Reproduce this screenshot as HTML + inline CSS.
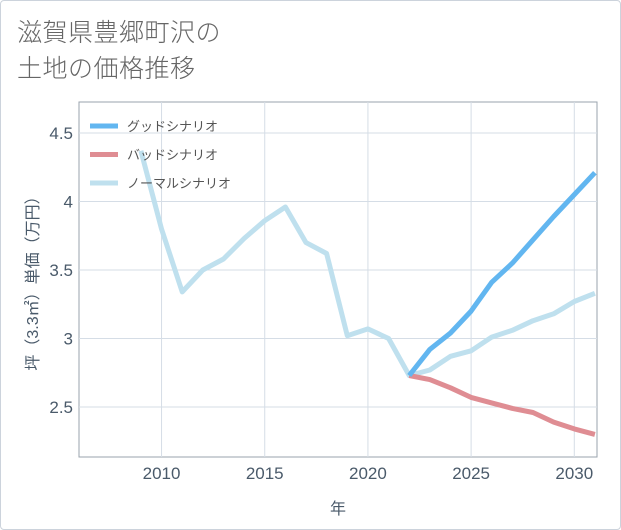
<!DOCTYPE html>
<html><head><meta charset="utf-8"><style>
body{margin:0;background:#fff;font-family:"Liberation Sans","Noto Sans CJK JP",sans-serif;}
#card{position:absolute;left:0;top:0;width:619px;height:528px;border:1px solid #ccd3dc;border-radius:4px;background:#fff;}
#title{position:absolute;left:17px;top:15px;font-size:25px;line-height:36px;color:#666;font-weight:300;letter-spacing:0.5px;}
svg{position:absolute;left:0;top:0;}
</style></head><body>
<div id="card"></div>
<div id="title">滋賀県豊郷町沢の<br>土地の価格推移</div>
<svg id="chart" width="621" height="530"></svg>
<script>
const years=[2009,2010,2011,2012,2013,2014,2015,2016,2017,2018,2019,2020,2021,2022,2023,2024,2025,2026,2027,2028,2029,2030,2031];
const normalValues=[4.37,3.80,3.34,3.50,3.58,3.73,3.86,3.96,3.70,3.62,3.02,3.07,3.00,2.73,2.77,2.87,2.91,3.01,3.06,3.13,3.18,3.27,3.33];
const forecastYears=[2022,2023,2024,2025,2026,2027,2028,2029,2030,2031];
const goodValues=[2.73,2.92,3.04,3.20,3.41,3.55,3.72,3.89,4.05,4.21];
const badValues=[2.73,2.70,2.64,2.57,2.53,2.49,2.46,2.39,2.34,2.30];
const xTicks=[2010,2015,2020,2025,2030];
const yTicks=[2.5,3,3.5,4,4.5];
const yTickLabels=["2.5","3","3.5","4","4.5"];
const seriesNames=["グッドシナリオ","バッドシナリオ","ノーマルシナリオ"];
const L=79,R=597,T=102,B=457,X0=2006,X1=2031.1,Y0=2.135,Y1=4.726;
const xs=v=>L+(v-X0)/(X1-X0)*(R-L);
const ys=v=>B-(v-Y0)/(Y1-Y0)*(B-T);
const svg=document.getElementById('chart');
const NS='http://www.w3.org/2000/svg';
function mk(t,a){const e=document.createElementNS(NS,t);for(const k in a)e.setAttribute(k,a[k]);svg.appendChild(e);return e;}
let e=mk('rect',{x:L,y:T,width:R-L,height:B-T,fill:'#fff',stroke:'#9aa3ad','stroke-width':1});


xTicks.forEach(t=>{
 let g=mk('line',{x1:xs(t),x2:xs(t),y1:T,y2:B,stroke:'#d5dde6'});
 
 
 let l=mk('text',{x:xs(t),y:B+22,'text-anchor':'middle','font-size':17,fill:'#4a5a6a'});
 l.textContent=t;
 
 
});
yTicks.forEach((t,i)=>{
 let g=mk('line',{x1:L,x2:R,y1:ys(t),y2:ys(t),stroke:'#d5dde6'});
 
 
 let l=mk('text',{x:L-6,y:ys(t)+6,'text-anchor':'end','font-size':17,fill:'#4a5a6a'});
 l.textContent=yTickLabels[i];
 
 
});
function line(xv,yv,color,name){
 const p=xv.map((x,i)=>(i?'L':'M')+xs(x).toFixed(1)+','+ys(yv[i]).toFixed(1)).join('');
 let l=mk('path',{d:p,fill:'none',stroke:color,'stroke-width':5,'stroke-linejoin':'round'});
 
 
}
line(years,normalValues,'#bfe0ee','normal-scenario-line');
line(forecastYears,badValues,'#df8d93','bad-scenario-line');
line(forecastYears,goodValues,'#62b6f0','good-scenario-line');
const lc=['#62b6f0','#df8d93','#bfe0ee'];
seriesNames.forEach((n,i)=>{
 const y=126+i*28.5;
 let s=mk('line',{x1:90,x2:118,y1:y,y2:y,stroke:lc[i],'stroke-width':5});
 
 
 let t=mk('text',{x:127,y:y+5,'font-size':13,fill:'#555'});
 t.textContent=n;
 
 
});
let xt=mk('text',{x:(L+R)/2,y:514,'text-anchor':'middle','font-size':16,fill:'#4a5a6a'});
xt.textContent='年';


let yt=mk('text',{x:0,y:0,'text-anchor':'middle','font-size':16,fill:'#4a5a6a',transform:'translate(38,'+((T+B)/2)+') rotate(-90)'});
yt.textContent='坪（3.3㎡）単価（万円）';


</script>
</body></html>
